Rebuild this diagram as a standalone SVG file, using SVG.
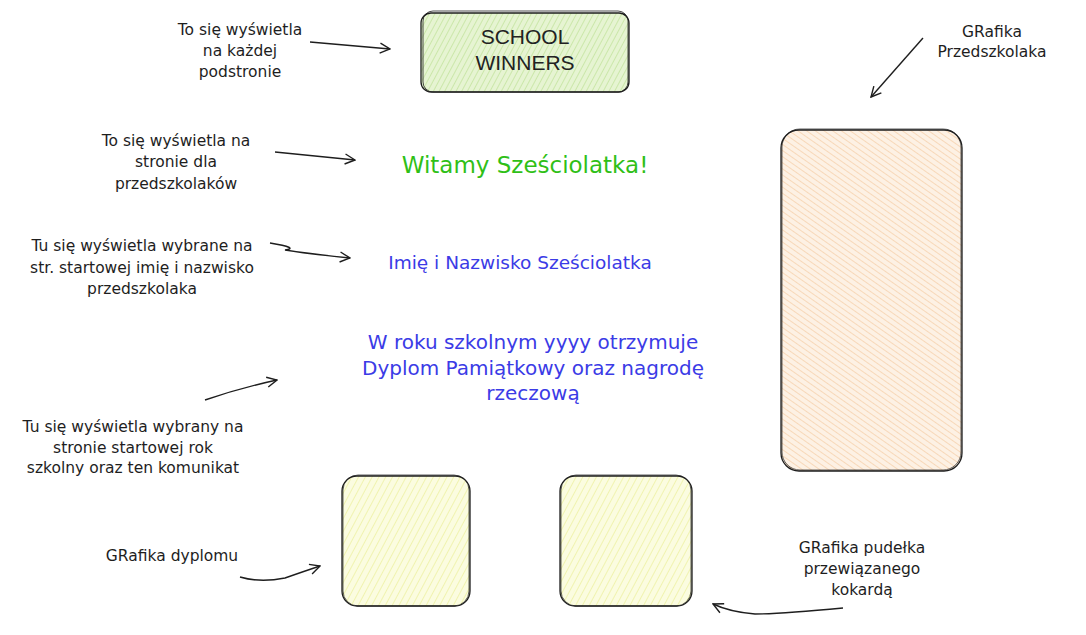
<svg xmlns="http://www.w3.org/2000/svg" width="1086" height="635" viewBox="0 0 1086 635">
<style>
.lbl{font-family:"DejaVu Sans","Liberation Sans",sans-serif;font-size:15.5px;fill:#1e1e1e;text-anchor:middle}
.box{stroke:#1e1e1e;stroke-width:1.3;}
.conn{fill:none;stroke:#1e1e1e;stroke-width:1.4;marker-end:url(#ah)}
.blue{font-family:"DejaVu Sans","Liberation Sans",sans-serif;fill:#3b3be6;text-anchor:middle}
</style>
<defs>
<marker id="ah" viewBox="0 0 12 12" refX="11" refY="6" markerWidth="12" markerHeight="12" markerUnits="userSpaceOnUse" orient="auto">
<path d="M1,1 L11,6 L1,11" fill="none" stroke="#1e1e1e" stroke-width="1.4"/>
</marker>
<pattern id="hg" width="5" height="5" patternUnits="userSpaceOnUse" patternTransform="rotate(28)">
<rect width="5" height="5" fill="#e6f4d2"/>
<line x1="0" y1="0" x2="0" y2="5" stroke="#c4e4a0" stroke-width="1.6"/>
</pattern>
<pattern id="hy" width="6" height="6" patternUnits="userSpaceOnUse" patternTransform="rotate(28)">
<rect width="6" height="6" fill="#fbfce0"/>
<line x1="0" y1="0" x2="0" y2="6" stroke="#f0f3b0" stroke-width="2"/>
</pattern>
<pattern id="ho" width="5" height="5" patternUnits="userSpaceOnUse" patternTransform="rotate(-55)">
<rect width="5" height="5" fill="#fdf1e4"/>
<line x1="0" y1="0" x2="0" y2="5" stroke="#f7d6b4" stroke-width="1.8"/>
</pattern>
</defs>
<rect width="1086" height="635" fill="#ffffff"/>

<g id="header">
<rect class="box" x="421" y="13" width="208" height="79" rx="10" fill="url(#hg)"/>
<rect x="423" y="11" width="205" height="81" rx="10" fill="none" stroke="#1e1e1e" stroke-width="0.8"/>
<text x="525" y="44" font-family="Liberation Sans, Arial, sans-serif" font-size="21" fill="#222" text-anchor="middle">SCHOOL</text>
<text x="525" y="70" font-family="Liberation Sans, Arial, sans-serif" font-size="21" fill="#222" text-anchor="middle">WINNERS</text>
</g>

<g id="label-header">
<text class="lbl"><tspan x="240" y="35">To się wyświetla</tspan><tspan x="240" y="56">na każdej</tspan><tspan x="240" y="77">podstronie</tspan></text>
</g>

<g id="label-welcome">
<text class="lbl"><tspan x="176" y="146">To się wyświetla na</tspan><tspan x="176" y="167">stronie dla</tspan><tspan x="176" y="189">przedszkolaków</tspan></text>
</g>

<g id="welcome">
<text x="525" y="173" font-family="DejaVu Sans, Liberation Sans, sans-serif" font-size="23" fill="#2fbf17" text-anchor="middle">Witamy Sześciolatka!</text>
</g>

<g id="label-name">
<text class="lbl"><tspan x="142" y="251">Tu się wyświetla wybrane na</tspan><tspan x="142" y="273">str. startowej imię i nazwisko</tspan><tspan x="142" y="294">przedszkolaka</tspan></text>
</g>

<g id="name">
<text class="blue" x="520" y="269" font-size="18.5">Imię i Nazwisko Sześciolatka</text>
</g>

<g id="message">
<text class="blue" font-size="20"><tspan x="533" y="349">W roku szkolnym yyyy otrzymuje</tspan><tspan x="533" y="375">Dyplom Pamiątkowy oraz nagrodę</tspan><tspan x="533" y="400">rzeczową</tspan></text>
</g>

<g id="label-message">
<text class="lbl"><tspan x="133" y="432">Tu się wyświetla wybrany na</tspan><tspan x="133" y="453">stronie startowej rok</tspan><tspan x="133" y="473">szkolny oraz ten komunikat</tspan></text>
</g>

<g id="child-graphic">
<rect class="box" x="781" y="130" width="181" height="341" rx="18" fill="url(#ho)"/>
<rect x="782" y="129" width="179" height="341" rx="18" fill="none" stroke="#1e1e1e" stroke-width="0.7"/>
</g>

<g id="label-child">
<text class="lbl"><tspan x="992" y="37">GRafika</tspan><tspan x="992" y="57">Przedszkolaka</tspan></text>
</g>

<g id="diploma-graphic">
<rect class="box" x="342" y="476" width="128" height="130" rx="15" fill="url(#hy)"/>
<rect x="343" y="475" width="126" height="131" rx="15" fill="none" stroke="#1e1e1e" stroke-width="0.7"/>
</g>

<g id="box-graphic">
<rect class="box" x="560" y="476" width="132" height="130" rx="15" fill="url(#hy)"/>
<rect x="561" y="475" width="130" height="131" rx="15" fill="none" stroke="#1e1e1e" stroke-width="0.7"/>
</g>

<g id="label-diploma">
<text class="lbl" x="172" y="561">GRafika dyplomu</text>
</g>

<g id="label-box">
<text class="lbl"><tspan x="862" y="553">GRafika pudełka</tspan><tspan x="862" y="574">przewiązanego</tspan><tspan x="862" y="595">kokardą</tspan></text>
</g>

<g id="connectors">
<path class="conn" d="M310,42 L390,49"/>
<path class="conn" d="M275,152 L355,160"/>
<path class="conn" d="M270,243 Q300,248 285,250 Q310,254 350,258"/>
<path class="conn" d="M205,400 Q240,388 277,380"/>
<path class="conn" d="M923,38 L871,97"/>
<path class="conn" d="M240,577 Q260,583 285,578 Q305,571 320,566"/>
<path class="conn" d="M843,608 Q780,614 755,614 Q730,612 713,604"/>
</g>
</svg>
